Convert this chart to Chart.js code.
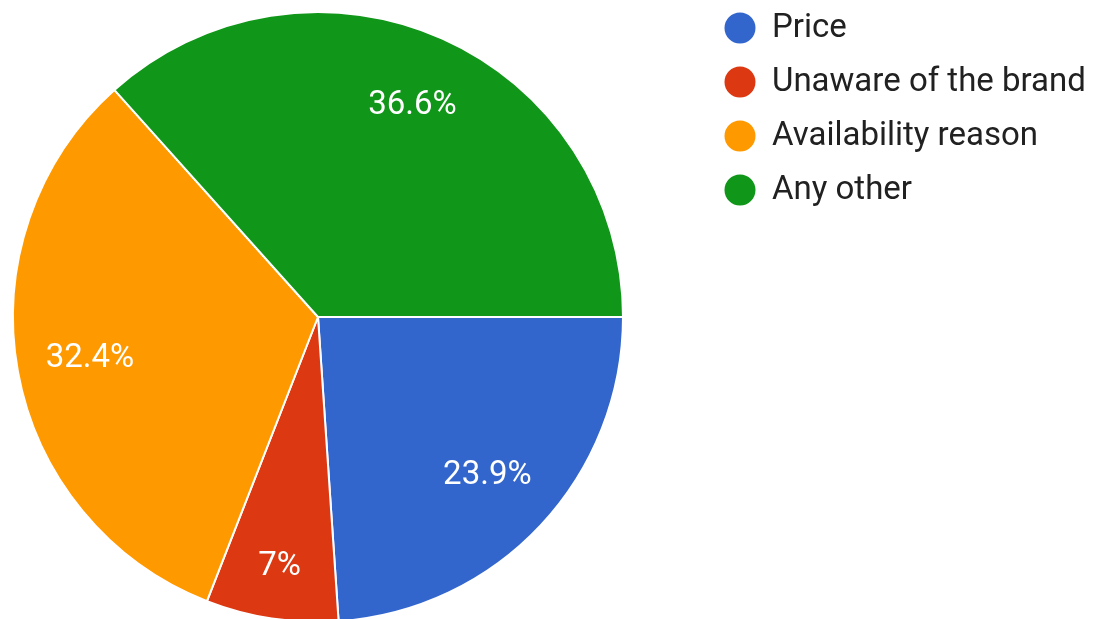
<!DOCTYPE html>
<html>
<head>
<meta charset="utf-8">
<script src="https://cdn.jsdelivr.net/npm/chart.js@4"></script>
<style>
	html, body { margin: 0; padding: 0; background: #fff; overflow: hidden; }
	#wrap { width: 1103px; height: 640px; }
</style>
</head>
<body>
<div id="wrap"><canvas id="myChart" width="1103" height="640"></canvas></div>
<script>
const reasons = ['Price', 'Unaware of the brand', 'Availability reason', 'Any other'];
const shares = [23.9, 7, 32.4, 36.6];

const colors = ['#3366cc', '#dc3912', '#ff9900', '#109618'];

// percentage text inside each slice
const sliceLabels = {
	id: 'sliceLabels',
	afterDatasetsDraw(chart) {
		const ctx = chart.ctx;
		const arcs = chart.getDatasetMeta(0).data;
		ctx.save();
		ctx.font = '33px Roboto';
		ctx.fillStyle = '#ffffff';
		ctx.textAlign = 'center';
		ctx.textBaseline = 'middle';
		arcs.forEach((arc, i) => {
			const mid = (arc.startAngle + arc.endAngle) / 2;
			const f = shares[i] < 10 ? 0.83 : 0.76;
			const r = arc.outerRadius * f;
			ctx.fillText(shares[i] + '%', arc.x + Math.cos(mid) * r, arc.y + Math.sin(mid) * r);
		});
		ctx.restore();
	}
};

// legend on the right, dots + names
const sideLegend = {
	id: 'sideLegend',
	afterDraw(chart) {
		const ctx = chart.ctx;
		ctx.save();
		ctx.font = '33px Roboto';
		ctx.textBaseline = 'middle';
		reasons.forEach((name, i) => {
			const y = 28 + i * 54;
			ctx.beginPath();
			ctx.arc(740, y, 15.5, 0, Math.PI * 2);
			ctx.fillStyle = colors[i];
			ctx.fill();
			ctx.fillStyle = '#212121';
			ctx.fillText(name, 772, y + 1);
		});
		ctx.restore();
	}
};

window.onload = () => {
	const ctx = document.getElementById('myChart').getContext('2d');
	new Chart(ctx, {
		type: 'pie',
		data: {
			labels: reasons,
			datasets: [{
				data: shares,
				backgroundColor: colors,
				borderColor: '#ffffff',
				borderWidth: 2
			}]
		},
		options: {
			responsive: false,
			animation: false,
			rotation: 90,
			layout: { padding: { left: 12, top: 11, right: 479, bottom: 17 } },
			plugins: {
				legend: { display: false },
				tooltip: { enabled: false }
			}
		},
		plugins: [sliceLabels, sideLegend]
	});
};
</script>
</body>
</html>
